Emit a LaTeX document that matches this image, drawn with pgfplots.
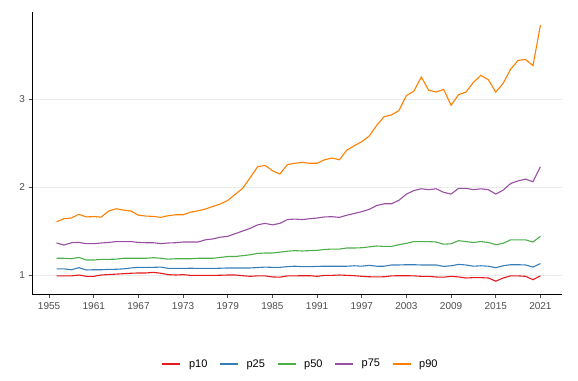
\documentclass[border=0pt]{standalone}
\usepackage{pgfplots}
\pgfplotsset{compat=1.18}
\usepackage{pgfplotstable}
\usepackage{fontspec}
\setmainfont{Liberation Sans}
\definecolor{cR}{HTML}{E41A1C}
\definecolor{cB}{HTML}{377EB8}
\definecolor{cG}{HTML}{4DAF4A}
\definecolor{cP}{HTML}{984EA3}
\definecolor{cO}{HTML}{FF7F00}
\definecolor{tickgray}{HTML}{4D4D4D}
\definecolor{gridgray}{HTML}{EBEBEB}
\pgfplotstableread{
year p10 p25 p50 p75 p90
1956 0.990 1.070 1.190 1.364 1.606
1957 0.990 1.070 1.190 1.340 1.640
1958 0.990 1.060 1.185 1.367 1.648
1959 1.000 1.083 1.200 1.370 1.690
1960 0.985 1.057 1.170 1.356 1.660
1961 0.985 1.060 1.170 1.356 1.665
1962 1.000 1.060 1.178 1.364 1.658
1963 1.005 1.064 1.178 1.370 1.727
1964 1.010 1.065 1.180 1.380 1.753
1965 1.015 1.070 1.190 1.380 1.738
1966 1.020 1.080 1.190 1.380 1.727
1967 1.023 1.087 1.190 1.370 1.680
1968 1.023 1.087 1.190 1.367 1.670
1969 1.030 1.087 1.197 1.367 1.666
1970 1.020 1.090 1.190 1.356 1.655
1971 1.004 1.076 1.180 1.364 1.674
1972 1.000 1.075 1.185 1.367 1.685
1973 1.004 1.075 1.185 1.375 1.685
1974 0.996 1.077 1.185 1.375 1.715
1975 0.996 1.075 1.190 1.375 1.730
1976 0.996 1.075 1.190 1.400 1.750
1977 0.996 1.075 1.190 1.410 1.780
1978 0.997 1.077 1.200 1.430 1.807
1979 1.000 1.080 1.210 1.440 1.848
1980 1.000 1.080 1.210 1.470 1.917
1981 0.992 1.080 1.220 1.500 1.985
1982 0.985 1.080 1.230 1.530 2.106
1983 0.990 1.085 1.245 1.570 2.230
1984 0.990 1.090 1.250 1.587 2.246
1985 0.978 1.087 1.250 1.570 2.186
1986 0.975 1.087 1.260 1.587 2.148
1987 0.990 1.095 1.270 1.630 2.254
1988 0.990 1.100 1.277 1.636 2.270
1989 0.992 1.095 1.273 1.630 2.280
1990 0.992 1.095 1.277 1.640 2.270
1991 0.985 1.098 1.280 1.648 2.270
1992 0.996 1.100 1.290 1.660 2.310
1993 0.996 1.100 1.295 1.663 2.330
1994 1.000 1.100 1.295 1.655 2.310
1995 0.996 1.100 1.307 1.680 2.420
1996 0.992 1.105 1.307 1.700 2.470
1997 0.985 1.100 1.310 1.720 2.515
1998 0.980 1.110 1.320 1.746 2.580
1999 0.978 1.100 1.330 1.790 2.700
2000 0.980 1.100 1.325 1.810 2.800
2001 0.990 1.114 1.325 1.810 2.820
2002 0.992 1.114 1.345 1.850 2.870
2003 0.992 1.117 1.360 1.920 3.040
2004 0.990 1.117 1.380 1.960 3.090
2005 0.985 1.114 1.380 1.980 3.250
2006 0.985 1.114 1.380 1.970 3.100
2007 0.977 1.114 1.375 1.980 3.080
2008 0.975 1.098 1.350 1.940 3.110
2009 0.985 1.105 1.355 1.920 2.930
2010 0.978 1.120 1.390 1.985 3.050
2011 0.966 1.114 1.380 1.985 3.080
2012 0.970 1.100 1.370 1.970 3.190
2013 0.970 1.105 1.380 1.980 3.270
2014 0.966 1.100 1.370 1.970 3.220
2015 0.930 1.083 1.345 1.920 3.080
2016 0.966 1.105 1.360 1.965 3.180
2017 0.990 1.117 1.400 2.040 3.340
2018 0.990 1.117 1.400 2.070 3.440
2019 0.985 1.114 1.400 2.090 3.450
2020 0.947 1.090 1.375 2.060 3.380
2021 0.990 1.130 1.440 2.230 3.840
}\datatable
\begin{document}
\begin{tikzpicture}
\useasboundingbox (-32pt,-86pt) rectangle (546pt,294pt);
\begin{axis}[
  at={(0pt,0pt)}, anchor=south west,
  scale only axis, width=530pt, height=282pt,
  xmin=1952.7, xmax=2023.9, ymin=0.784, ymax=3.99,
  axis x line*=bottom, axis y line*=left,
  axis line style={black, line width=0.8pt, -},
  xtick={1955,1961,...,2021}, ytick={1,2,3},
  minor tick num=0,
  tick align=outside, major tick length=3.5pt,
  tick style={tickgray, line width=0.6pt},
  ymajorgrids, grid style={gridgray, line width=0.8pt},
  /pgf/number format/assume math mode=true,
  /pgf/number format/set thousands separator={},
  ticklabel style={font=\fontsize{10}{12}\selectfont, text=tickgray},
  xticklabel style={yshift=-1pt},
  legend style={at={(0.507,-0.248)}, anchor=center, draw=none, fill=none,
    font=\fontsize{11}{13}\selectfont, column sep=6pt,
    /tikz/every even column/.append style={column sep=10pt}},
  legend columns=5,
  legend image code/.code={\draw[#1, line width=1.2pt] (0pt,0pt) -- (18pt,0pt);},
  clip=false,
]
\addplot[cR, line width=1.1pt, mark=none] table[x=year, y=p10] {\datatable};
\addlegendentry{p10}
\addplot[cB, line width=1.1pt, mark=none] table[x=year, y=p25] {\datatable};
\addlegendentry{p25}
\addplot[cG, line width=1.1pt, mark=none] table[x=year, y=p50] {\datatable};
\addlegendentry{p50}
\addplot[cP, line width=1.1pt, mark=none] table[x=year, y=p75] {\datatable};
\addlegendentry{p75}
\addplot[cO, line width=1.1pt, mark=none] table[x=year, y=p90] {\datatable};
\addlegendentry{p90}
\end{axis}
\end{tikzpicture}
\end{document}
